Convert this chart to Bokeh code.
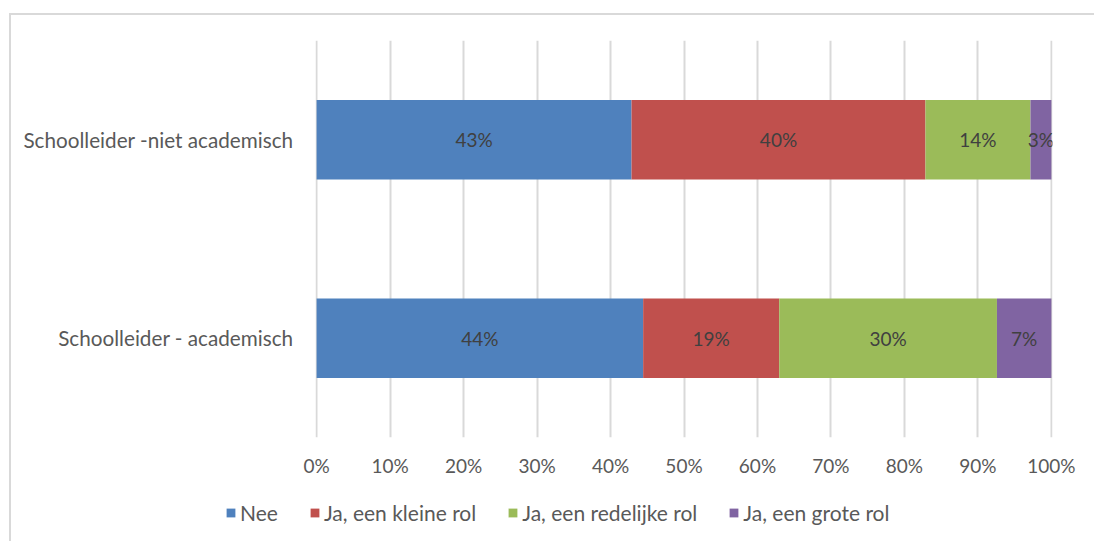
from bokeh.plotting import figure
from bokeh.models import (ColumnDataSource, FactorRange, Range1d, Legend, LegendItem,
                          SingleIntervalTicker, PrintfTickFormatter)
from bokeh.core.properties import value
from bokeh.embed import file_html
from bokeh.resources import INLINE

categories = ["Schoolleider - academisch", "Schoolleider -niet academisch"]
series_names = ["Nee", "Ja, een kleine rol", "Ja, een redelijke rol", "Ja, een grote rol"]
nee = [44.44, 42.86]
kleine = [18.52, 40.00]
redelijke = [29.63, 14.29]
grote = [7.41, 2.85]
colors = ["#4f81bd", "#c0504d", "#9bbb59", "#8064a2"]

FONT = "Lato"
TXT = "#595959"
BORDER = "2px solid #d9d9d9"

keys = ["nee", "kleine", "redelijke", "grote"]
data = dict(cat=categories, nee=nee, kleine=kleine, redelijke=redelijke, grote=grote)
source = ColumnDataSource(data)

p = figure(width=1085, height=475, y_range=FactorRange(*categories), x_range=Range1d(-0.15, 100.15),
           output_backend="svg", toolbar_location=None,
           min_border_left=304, min_border_right=44, min_border_top=25, min_border_bottom=53,
           margin=(13, 0, 0, 9), styles={"border-left": BORDER, "border-top": BORDER})
p.outline_line_color = None
p.background_fill_color = "white"
p.border_fill_color = "white"

renderers = p.hbar_stack(keys, y="cat", height=0.4, color=colors, source=source, line_color=None)

# data labels at the centre of each segment
lx, ly, lt = [], [], []
for i, c in enumerate(categories):
    left = 0.0
    for k in keys:
        v = data[k][i]
        lx.append(left + v / 2)
        ly.append(c)
        lt.append(f"{round(v)}%")
        left += v
p.text(x=lx, y=ly, text=lt, text_align="center", text_baseline="middle",
       text_font=value(FONT), text_font_size="19px", text_color="#404040")

# axes
p.xaxis.ticker = SingleIntervalTicker(interval=10)
p.xaxis.formatter = PrintfTickFormatter(format="%d%%")
for ax in (p.xaxis[0], p.yaxis[0]):
    ax.axis_line_color = None
    ax.major_tick_line_color = None
    ax.minor_tick_line_color = None
    ax.major_label_text_font = FONT
    ax.major_label_text_color = TXT
p.xaxis.major_label_text_font_size = "19px"
p.yaxis.major_label_text_font_size = "20.7px"
p.xaxis.major_label_standoff = 10
p.yaxis.major_label_standoff = 16
p.ygrid.grid_line_color = None
p.xgrid.grid_line_color = "#d9d9d9"
p.xgrid.grid_line_width = 2

# legend strip below the chart (separate root so its frame is not aligned with the chart)
pl = figure(width=1085, height=53, x_range=Range1d(0, 100), y_range=FactorRange(*categories),
            output_backend="svg", toolbar_location=None,
            min_border_left=0, min_border_right=0, min_border_top=0, min_border_bottom=0,
            margin=(0, 0, 0, 9), styles={"border-left": BORDER})
pl.axis.visible = False
pl.grid.visible = False
pl.outline_line_color = None
pl.background_fill_color = "white"
pl.border_fill_color = "white"
swatches = pl.hbar_stack(keys, y="cat", height=0.4, color=colors, source=source, line_color=None)
for r in swatches:
    r.visible = False
legend = Legend(items=[LegendItem(label=n, renderers=[r]) for n, r in zip(series_names, swatches)],
                orientation="horizontal", location=(214, 16),
                glyph_width=11, glyph_height=11, label_standoff=4, spacing=31,
                label_text_font=FONT, label_text_font_size="21px", label_text_color=TXT,
                label_height=20, padding=0, margin=0, inactive_fill_alpha=0,
                border_line_color=None, background_fill_alpha=0)
pl.add_layout(legend, "center")

open("out.html", "w").write(file_html([p, pl], INLINE))
